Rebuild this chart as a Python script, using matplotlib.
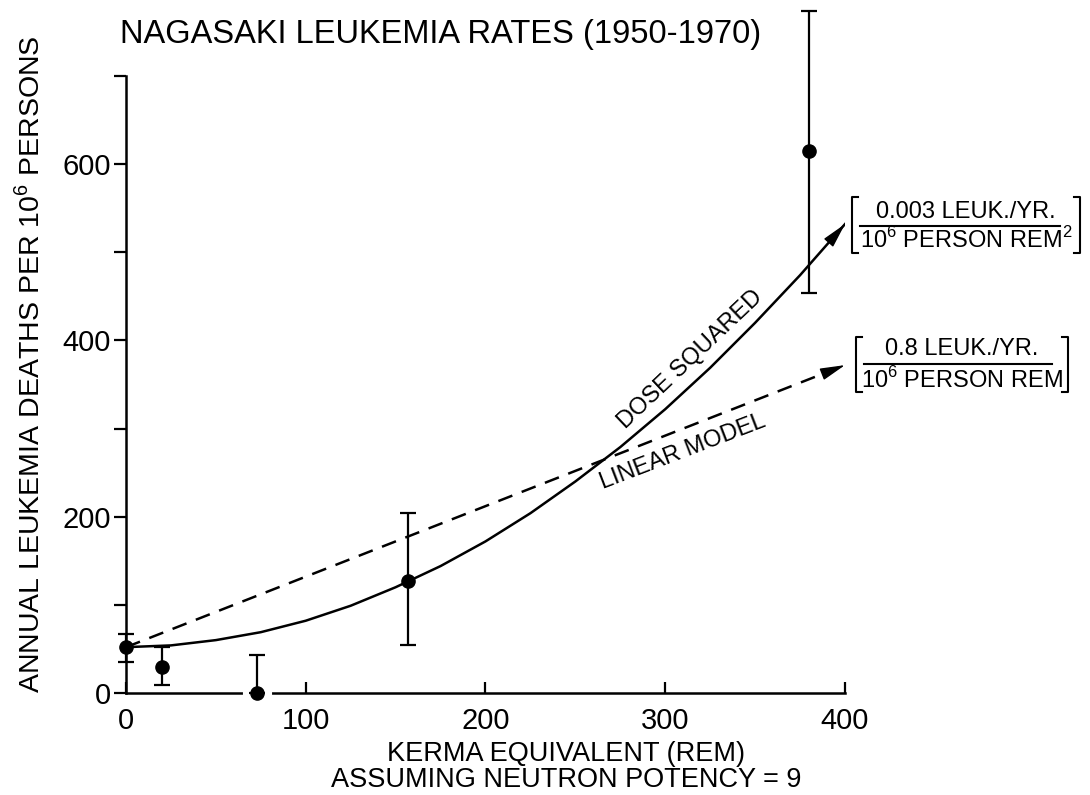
#Nagasaki leukemia rates vs kerma equivalent dose
#linear model and dose squared model drawn over the data points

import numpy as np
import matplotlib.pyplot as plt
from matplotlib.lines import Line2D

plt.rcParams['font.family'] = ['Liberation Sans', 'DejaVu Sans']
plt.rcParams['mathtext.fontset'] = 'custom'
plt.rcParams['mathtext.rm'] = 'Liberation Sans'

# data
dose_rem = np.array([0, 20, 73, 157, 380])
deaths = np.array([52, 30, 0, 127, 615])
err_low = np.array([35, 9, 0, 54, 454])
err_high = np.array([67, 52, 43, 204, 774])

# dose squared model curve (read every 25 rem)
dsq_x = [0, 25, 50, 75, 100, 125, 150, 175, 200, 225, 250, 275, 300, 325, 350, 375, 400]
dsq_y = [52, 54, 60, 69, 82, 99, 120, 144, 172, 204, 240, 279, 322, 369, 420, 474, 532]

# linear model
lin_x = [0, 400]
lin_y = [52, 372]

x_ticks = [0, 100, 200, 300, 400]
y_ticks = [0, 100, 200, 300, 400, 500, 600, 700]
y_ticklabels = ['0', '', '200', '', '400', '', '600', '']

W, H = 1090, 795
def fx(px):
    return px / W
def fy(py):
    return 1 - py / H

fig = plt.figure(figsize=(10.9, 7.95), dpi=100)
ax = fig.add_axes([fx(126), fy(693), (845 - 126) / W, (693 - 76) / H])

ax.plot(dsq_x, dsq_y, color='black', lw=1.8, zorder=3)
ax.plot(lin_x, lin_y, color='black', lw=1.8, ls=(0, (6, 4)), zorder=3)

# arrow heads at the end of each model line
def arrow_head(xs, ys):
    x1, y1 = xs[-1], ys[-1]
    x0 = x1 - 0.02 * (xs[-1] - xs[-2])
    y0 = y1 - 0.02 * (ys[-1] - ys[-2])
    ax.annotate('', xy=(x1, y1), xytext=(x0, y0), annotation_clip=False,
                arrowprops=dict(arrowstyle='-|>,head_length=0.7,head_width=0.17',
                                color='black', lw=1.0, mutation_scale=22,
                                shrinkA=0, shrinkB=0))
arrow_head(dsq_x, dsq_y)
arrow_head(lin_x, lin_y)

# white gap in the axis where a point sits on it
on_axis = deaths == 0
ax.plot(dose_rem[on_axis], deaths[on_axis], 'o', color='white', ms=20, zorder=3.5, clip_on=False)

eb = ax.errorbar(dose_rem, deaths, yerr=[deaths - err_low, err_high - deaths],
                 fmt='o', color='black', ms=9.5, capsize=6, elinewidth=1.6,
                 capthick=1.6, zorder=4, clip_on=False)
for art in eb.get_children():
    art.set_clip_on(False)

ax.set_xlim(0, 400)
ax.set_ylim(0, 700)
ax.spines['top'].set_visible(False)
ax.spines['right'].set_visible(False)
for s in ['left', 'bottom']:
    ax.spines[s].set_linewidth(1.8)

ax.set_xticks(x_ticks)
ax.set_yticks(y_ticks)
ax.set_yticklabels(y_ticklabels)
ax.tick_params(axis='y', direction='out', length=9, width=1.6, pad=2, labelsize=21)
ax.tick_params(axis='x', direction='in', length=8, width=1.6, pad=10, labelsize=21)

# model labels along the lines
ax.text(314, 378, 'DOSE SQUARED', rotation=43.5, ha='center', va='center', fontsize=17)
ax.text(310, 274, 'LINEAR MODEL', rotation=21, ha='center', va='center', fontsize=17)

fig.text(fx(120), fy(34), 'NAGASAKI LEUKEMIA RATES (1950-1970)', ha='left', va='center', fontsize=23.5)
fig.text(fx(30), fy(364), r'ANNUAL LEUKEMIA DEATHS PER 10$^{\mathregular{6}}$ PERSONS',
         rotation=90, ha='center', va='center', fontsize=20.5)
fig.text(fx(566), fy(767), 'KERMA EQUIVALENT (REM)\nASSUMING NEUTRON POTENCY = 9',
         ha='center', va='center', fontsize=19.5, linespacing=1.0)

# bracketed slope labels
def bracket_label(top, bottom, left, right, y_top, y_bot, y_rule, rule_l, rule_r, y_t1, y_t2):
    for xb, d in [(left, 6), (right, -6)]:
        fig.add_artist(Line2D([fx(xb + d), fx(xb), fx(xb), fx(xb + d)],
                              [fy(y_top), fy(y_top), fy(y_bot), fy(y_bot)],
                              color='black', lw=1.5))
    fig.add_artist(Line2D([fx(rule_l), fx(rule_r)], [fy(y_rule), fy(y_rule)], color='black', lw=1.5))
    mid = (left + right) / 2
    fig.text(fx(mid), fy(y_t1), top, ha='center', va='center', fontsize=17)
    fig.text(fx(mid), fy(y_t2), bottom, ha='center', va='center', fontsize=17)

bracket_label('0.003 LEUK./YR.', r'10$^{\mathregular{6}}$ PERSON REM$^{\mathregular{2}}$',
              852, 1080, 197, 253, 226, 860, 1060, 212, 240)
bracket_label('0.8 LEUK./YR.', r'10$^{\mathregular{6}}$ PERSON REM',
              856, 1068, 337, 392, 364, 864, 1052, 349, 380)

plt.savefig('out.png', dpi=100)
